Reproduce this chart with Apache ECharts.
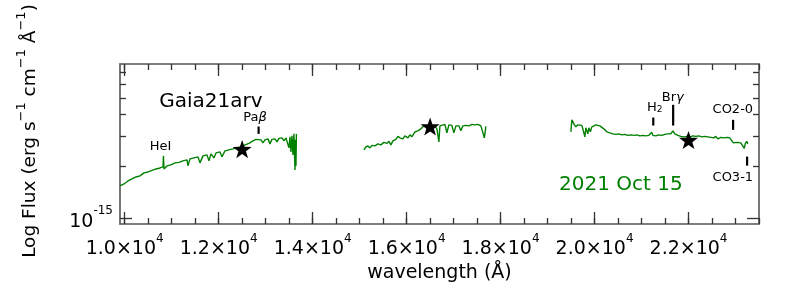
<!DOCTYPE html>
<html><head><meta charset="utf-8">
<script src="https://cdn.jsdelivr.net/npm/echarts@6/dist/echarts.min.js"></script>
<style>html,body{margin:0;padding:0;background:#fff}#c{width:799px;height:292px}</style>
</head><body><div id="c"></div>
<script>
// flux values are in units of 1e-15 erg s^-1 cm^-1 A^-1
const UNIT = 1e-15;
const waveJ = [9900,9985,10070,10155,10240,10325,10410,10496,10581,10666,10751,10815,10825,10836,10900,10985,11070,11155,11240,11326,11347,11389,11474,11560,11602,11666,11751,11794,11836,11900,11943,12028,12070,12134,12219,12304,12389,12475,12560,12645,12730,12794,12836,12900,12943,12985,13049,13092,13134,13198,13241,13283,13347,13390,13432,13474,13496,13517,13538,13560,13581,13602,13624,13634,13645,13655];
const fluxJ = [1.541,1.583,1.647,1.692,1.738,1.762,1.834,1.858,1.896,1.934,1.960,1.987,2.303,1.934,2.014,2.041,2.097,2.111,2.154,2.183,2.014,2.212,2.242,2.273,2.097,2.303,2.334,2.154,2.365,2.242,2.397,2.429,2.273,2.462,2.495,2.528,2.562,2.596,2.668,2.722,2.814,2.871,2.814,2.852,2.741,2.852,2.891,2.704,2.871,2.891,2.777,2.911,2.930,2.814,2.930,2.891,2.562,2.970,2.429,3.009,2.334,3.090,1.909,2.852,2.014,3.090];
const waveH = [15092,15134,15177,15219,15262,15326,15389,15453,15517,15581,15623,15666,15709,15772,15815,15858,15921,15964,16028,16070,16113,16177,16240,16304,16368,16432,16517,16602,16645,16687,16709,16751,16815,16857,16900,16964,17006,17049,17113,17155,17198,17262,17326,17389,17453,17517,17581,17623,17655,17687];
const fluxH = [2.495,2.596,2.632,2.562,2.650,2.632,2.704,2.668,2.759,2.722,2.796,2.668,2.814,2.871,2.989,2.930,2.891,3.009,2.930,3.050,2.970,3.176,3.219,3.306,3.441,3.395,3.418,3.441,3.306,2.777,3.441,3.534,3.510,3.132,3.487,3.464,3.132,3.441,3.441,3.219,3.441,3.464,3.441,3.510,3.487,3.510,3.441,3.395,2.930,3.418];
const waveK = [19496,19517,19560,19602,19645,19687,19730,19762,19794,19815,19857,19879,19911,19943,19985,20028,20070,20113,20155,20198,20262,20326,20389,20453,20517,20581,20645,20709,20772,20836,20900,20964,21028,21091,21155,21219,21240,21304,21368,21432,21496,21560,21623,21666,21709,21773,21836,21900,21964,22028,22091,22155,22219,22283,22347,22411,22475,22538,22581,22623,22687,22751,22815,22879,22921,22953,22985,23028,23070,23113,23155,23187,23209,23240,23262];
const fluxK = [3.176,3.728,3.534,3.395,3.487,3.441,3.464,3.219,2.970,3.350,3.090,3.350,3.176,3.395,3.441,3.487,3.464,3.441,3.373,3.306,3.176,3.132,3.090,3.070,3.090,3.050,3.070,3.030,3.050,3.030,3.050,3.009,3.030,3.009,3.030,3.153,3.030,3.009,3.050,3.030,3.070,3.090,3.090,3.219,3.090,3.030,2.989,2.970,2.989,2.970,3.009,2.989,3.009,2.970,2.989,2.970,2.950,2.930,2.989,2.891,2.950,2.930,2.950,2.930,2.891,2.741,2.722,2.759,2.722,2.741,2.704,2.546,2.722,2.796,2.704];
// photometry (stars)
const starWave = [12500, 16500, 22000];
const starFlux = [2.52, 3.41, 2.85];
// spectral feature markers
const featWave = [12850, 21250, 21673, 22949, 23247];
const featTop = [3.41, 3.845, 4.557, 3.728, 2.281];
const featBottom = [3.09, 3.454, 3.454, 3.262, 2.022];
// text annotations
const noteText = ['HeI', 'Pa{it|β}', 'H{sub|2}', 'Br{it|γ}', 'CO2-0', 'CO3-1'];
const noteWave = [10762, 12772, 21283, 21666, 22943, 22943];
const noteFlux = [2.608, 3.83, 4.38, 5.005, 4.264, 1.715];
const objectName = 'Gaia21arv', objectPos = [11836, 4.764];
const dateText = '2021 Oct 15', datePos = [20560, 1.562];
// axes
const xMin = 9900, xMax = 23500;
const xMajor = [10000, 12000, 14000, 16000, 18000, 20000, 22000];
const xMajorLabels = ['1.0', '1.2', '1.4', '1.6', '1.8', '2.0', '2.2'];
const xMinor = [10000,10500,11000,11500,12000,12500,13000,13500,14000,14500,15000,15500,16000,16500,17000,17500,18000,18500,19000,19500,20000,20500,21000,21500,22000,22500,23000,23500];
const yMin = 0.927, yMax = 7.86;
const yMajor = [1];
const yMinor = [2, 3, 4, 5, 6, 7];

const FONT = 'DejaVu Sans';
const frameColor = '#555';
const tickStyle = {color: '#333', width: 1.3};
const GREEN = '#008000';
const zip = (w, f) => w.map((v, i) => [v, f[i] * UNIT]);

function xAxisDef(pos, values, len, showLine, labels) {
  return {
    type: 'value', min: xMin, max: xMax, position: pos,
    axisLine: {show: showLine, onZero: false, lineStyle: {color: frameColor, width: 1.6}},
    axisTick: {show: true, inside: true, length: len, customValues: values, lineStyle: tickStyle},
    axisLabel: labels ? {
      show: true, customValues: xMajor, margin: 9, fontFamily: FONT,
      formatter: v => '{b|' + xMajorLabels[xMajor.indexOf(v)] + '×10}{s|4}',
      rich: {b: {fontSize: 19, fontFamily: FONT, color: '#000', padding: [7, 0, 0, 0]},
             s: {fontSize: 12, fontFamily: FONT, color: '#000', verticalAlign: 'top', lineHeight: 13}}
    } : {show: false},
    splitLine: {show: false}
  };
}
function yAxisDef(pos, values, len, showLine, labels) {
  return {
    type: 'log', logBase: 10, min: yMin * UNIT, max: yMax * UNIT, position: pos,
    axisLine: {show: showLine, onZero: false, lineStyle: {color: frameColor, width: 1.6}},
    axisTick: {show: true, inside: true, length: len, customValues: values.map(v => v * UNIT), lineStyle: tickStyle},
    axisLabel: labels ? {
      show: true, customValues: yMajor.map(v => v * UNIT), margin: 7,
      formatter: () => '{b|10}{s|-15}',
      rich: {b: {fontSize: 19, fontFamily: FONT, color: '#000', padding: [7, 0, 0, 0]},
             s: {fontSize: 12, fontFamily: FONT, color: '#000', verticalAlign: 'top', lineHeight: 13}}
    } : {show: false},
    splitLine: {show: false}
  };
}

const xAxes = [xAxisDef('bottom', xMajor, 12, true, true), xAxisDef('bottom', xMinor, 6, false, false),
               xAxisDef('top', xMajor, 12, true, false), xAxisDef('top', xMinor, 6, false, false)];
xAxes[0].name = 'wavelength (Å)';
xAxes[0].nameLocation = 'middle';
xAxes[0].nameGap = 32;
xAxes[0].nameTextStyle = {fontSize: 19, fontFamily: FONT, color: '#000'};

const yAxes = [yAxisDef('left', yMajor, 12, true, true), yAxisDef('left', yMinor, 6, false, false),
               yAxisDef('right', yMajor, 12, true, false), yAxisDef('right', yMinor, 6, false, false)];
yAxes[0].name = '{b|Log Flux (erg s}{s|−1}{b| cm}{s|−1}{b| Å}{s|−1}{b|)}';
yAxes[0].nameLocation = 'middle';
yAxes[0].nameRotate = 90;
yAxes[0].nameGap = 80;
yAxes[0].nameTextStyle = {
  fontSize: 18, fontFamily: FONT, color: '#000', padding: [0, 0, 0, 26],
  rich: {b: {fontSize: 18.5, fontFamily: FONT, color: '#000', padding: [6, 0, 0, 0]},
         s: {fontSize: 13, fontFamily: FONT, color: '#000', verticalAlign: 'top', lineHeight: 13}}
};

const series = [];
[[waveJ, fluxJ], [waveH, fluxH], [waveK, fluxK]].forEach(([w, f]) => {
  series.push({type: 'line', data: zip(w, f), showSymbol: false, symbol: 'none',
    lineStyle: {color: GREEN, width: 1.4}, z: 2, silent: true});
});
featWave.forEach((w, i) => {
  series.push({type: 'line', data: [[w, featBottom[i] * UNIT], [w, featTop[i] * UNIT]],
    showSymbol: false, symbol: 'none', lineStyle: {color: '#000', width: 2.2}, z: 3});
});
const STAR = 'path://M0,-10L2.35,-3.24L9.51,-3.09L3.8,1.24L5.88,8.09L0,4L-5.88,8.09L-3.8,1.24L-9.51,-3.09L-2.35,-3.24Z';
series.push({type: 'scatter', data: zip(starWave, starFlux), symbol: STAR, symbolSize: 19,
  symbolKeepAspect: true, itemStyle: {color: '#000', opacity: 1}, z: 5});
const labelRich = {it: {fontStyle: 'italic', fontSize: 13, fontFamily: FONT, color: '#000'},
                   sub: {fontSize: 9, fontFamily: FONT, color: '#000', verticalAlign: 'bottom', lineHeight: 9, padding: [8, 0, 0, 0]}};
const hidden = {color: 'rgba(0,0,0,0)'};
series.push({type: 'scatter', symbolSize: 1, itemStyle: hidden, z: 6,
  data: noteText.map((t, i) => ({value: [noteWave[i], noteFlux[i] * UNIT],
    label: {show: true, position: 'inside', formatter: t, fontSize: 13, fontFamily: FONT, color: '#000', opacity: 1, rich: labelRich}}))
});
series.push({type: 'scatter', symbolSize: 1, itemStyle: hidden, z: 6,
  data: [
    {value: [objectPos[0], objectPos[1] * UNIT], label: {show: true, position: 'inside', formatter: objectName, fontSize: 20, fontFamily: FONT, color: '#000', opacity: 1}},
    {value: [datePos[0], datePos[1] * UNIT], label: {show: true, position: 'inside', formatter: dateText, fontSize: 20, fontFamily: FONT, color: GREEN, opacity: 1}}
  ]});

const chart = echarts.init(document.getElementById('c'), null, {renderer: 'canvas'});
chart.setOption({
  animation: false,
  backgroundColor: '#fff',
  grid: {left: 120, right: 40, top: 64, bottom: 68, containLabel: false},
  xAxis: xAxes, yAxis: yAxes, series
});
</script></body></html>
